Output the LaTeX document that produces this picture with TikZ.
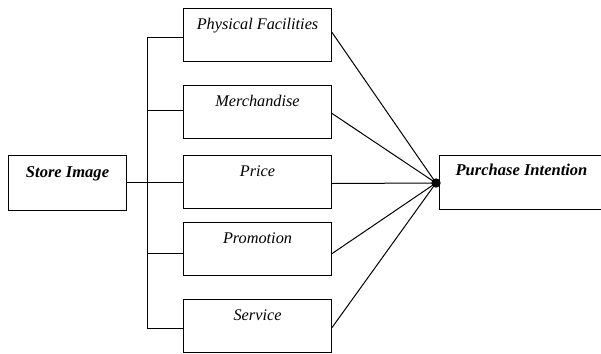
\documentclass[tikz,border=0pt]{standalone}
\usepackage{fontspec}
\setmainfont{Liberation Serif}
\begin{document}
\begin{tikzpicture}[x=0.75pt,y=-0.75pt,
  box/.style={draw,line width=0.8pt,inner xsep=0pt,inner ysep=0pt,anchor=north west,
    minimum width=111pt,text height=16pt,text depth=23.75pt,font=\itshape\fontsize{12.2}{14}\selectfont},
  bigbox/.style={box,font=\bfseries\itshape\fontsize{12.4}{14}\selectfont},
  conn/.style={line width=0.75pt}]
\useasboundingbox (0,0) rectangle (601,354);
\node[bigbox,minimum width=88.5pt,text height=16.5pt,text depth=24.75pt] (si) at (8,155) {Store Image};
\node[box] (pf) at (183,8) {Physical Facilities};
\node[box] (me) at (183,85) {Merchandise};
\node[box] (pr) at (183,155) {Price};
\node[box] (po) at (183,222) {Promotion};
\node[box] (sv) at (183,299) {Service};
\node[bigbox,minimum width=150pt,text height=15pt,text depth=25.5pt] (pi) at (439,155) {\hspace*{-27pt}Purchase Intention};
\node[circle,fill,inner sep=0pt,minimum size=7pt] (dot) at (436,183) {};
\coordinate (trunk) at (147,0);
% tree
\coordinate (pfw) at ([yshift=-1.9pt]pf.west);
\coordinate (mew) at ([yshift=1.1pt]me.west);
\coordinate (prw) at ([yshift=0pt]pr.west);
\coordinate (pow) at ([yshift=-3.4pt]po.west);
\coordinate (svw) at ([yshift=-1.9pt]sv.west);
\draw[conn] (pfw) -- (pfw -| trunk) -- (svw -| trunk) -- (svw);
\draw[conn] (mew) -- (mew -| trunk);
\draw[conn] (pow) -- (pow -| trunk);
\draw[conn] (si.east |- prw) -- (prw);
% to purchase intention
\draw[conn] ([yshift=1.9pt]pf.east) -- (dot.center);
\draw[conn] ([yshift=-1.1pt]me.east) -- (dot.center);
\draw[conn] ([yshift=-1.1pt]pr.east) -- (dot.center);
\draw[conn] ([yshift=-3.4pt]po.east) -- (dot.center);
\draw[conn] ([yshift=-1.1pt]sv.east) -- (dot.center);
\end{tikzpicture}
\end{document}
